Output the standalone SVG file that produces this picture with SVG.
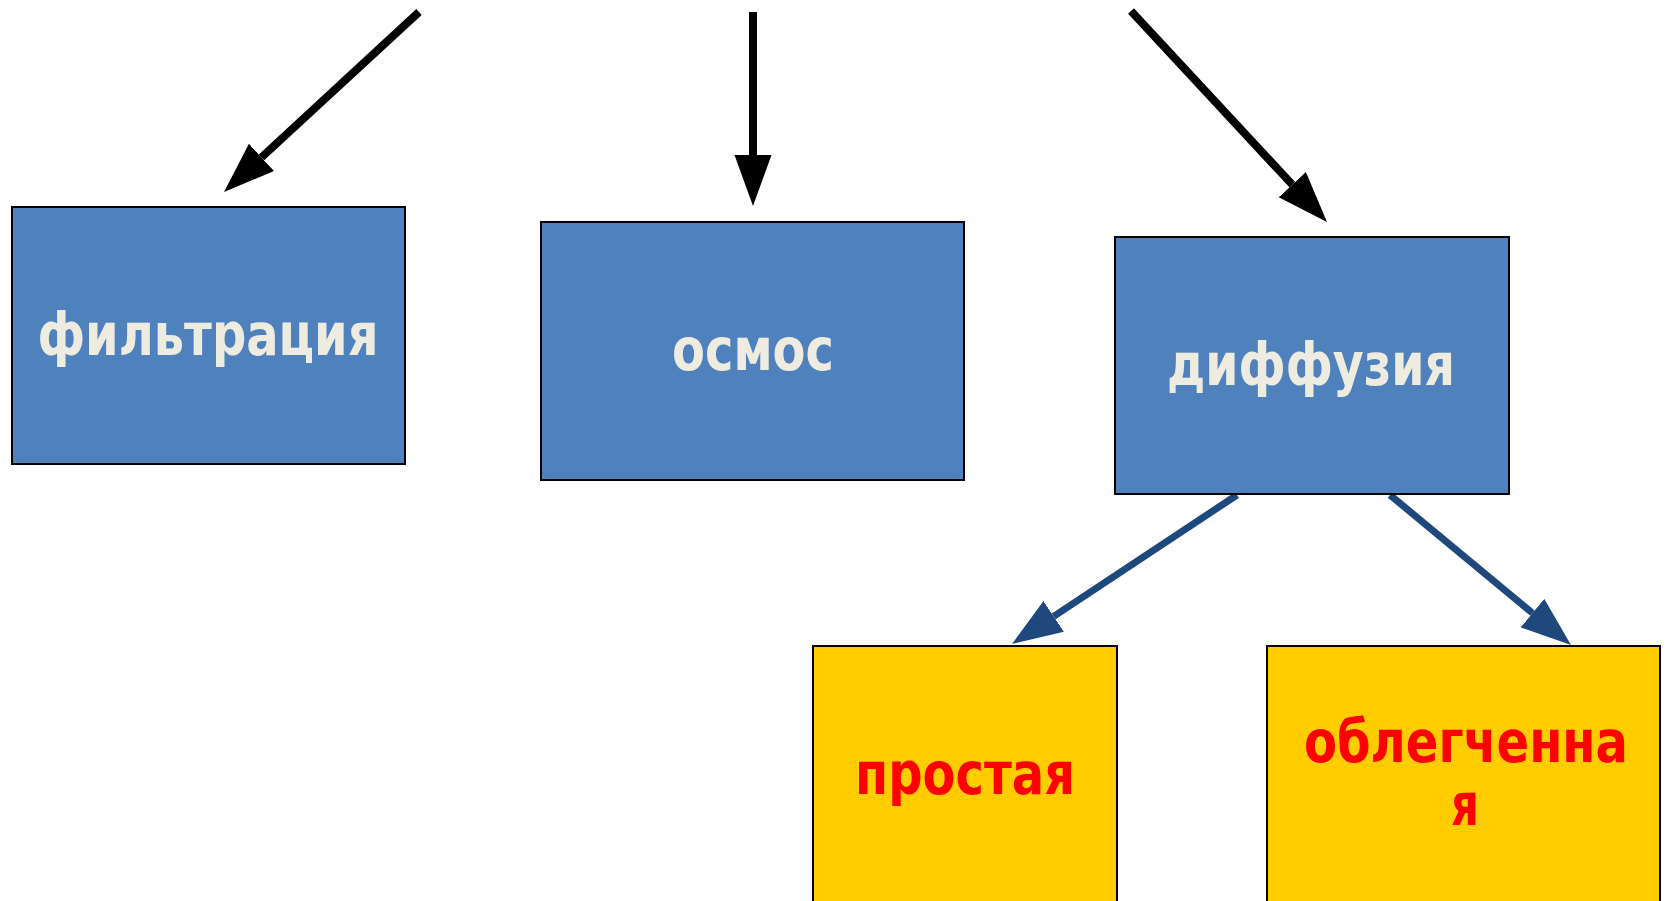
<svg xmlns="http://www.w3.org/2000/svg" width="1666" height="901" viewBox="0 0 1666 901">
<style>
.blue{fill:#4F81BD;stroke:#000;stroke-width:2}
.yel{fill:#FFCC00;stroke:#000;stroke-width:2}
.wt{font-family:"DejaVu Sans",sans-serif;font-weight:bold;font-size:58px;fill:#EEECE1;text-anchor:middle}
.rt{font-family:"DejaVu Sans",sans-serif;font-weight:bold;font-size:58px;fill:#FF0000;text-anchor:middle}
.bk{stroke:#000;stroke-width:8;fill:none}
.bl{stroke:#1F497D;stroke-width:7;fill:none}
</style>
<defs>
<marker id="hb" markerUnits="userSpaceOnUse" markerWidth="52" markerHeight="38" refX="0" refY="18.5" orient="auto"><path d="M0,0 L51,18.5 L0,37 z" fill="#000"/></marker>
<marker id="hl" markerUnits="userSpaceOnUse" markerWidth="52" markerHeight="38" refX="0" refY="18.5" orient="auto"><path d="M0,0 L50,18.5 L0,37 z" fill="#1F497D"/></marker>
</defs>
<rect width="1666" height="901" fill="#fff"/>
<g id="connectors">
<line class="bk" x1="419" y1="12" x2="261.5" y2="157.4" marker-end="url(#hb)"/>
<line class="bk" x1="753" y1="12" x2="753" y2="155" marker-end="url(#hb)"/>
<line class="bk" x1="1131" y1="11" x2="1292.3" y2="184.6" marker-end="url(#hb)"/>
<line class="bl" x1="1237" y1="495" x2="1053.7" y2="616.4" marker-end="url(#hl)"/>
<line class="bl" x1="1390" y1="495" x2="1532.5" y2="613.1" marker-end="url(#hl)"/>
</g>
<g id="filtration"><rect class="blue" x="12" y="207" width="393" height="257"/><text class="wt" x="208" y="355" textLength="341" lengthAdjust="spacingAndGlyphs">фильтрация</text></g>
<g id="osmos"><rect class="blue" x="541" y="222" width="423" height="258"/><text class="wt" x="753" y="370" textLength="162" lengthAdjust="spacingAndGlyphs">осмос</text></g>
<g id="diffusion"><rect class="blue" x="1115" y="237" width="394" height="257"/><text class="wt" x="1311" y="385" textLength="288" lengthAdjust="spacingAndGlyphs">диффузия</text></g>
<g id="simple"><rect class="yel" x="813" y="646" width="304" height="300"/><text class="rt" x="965" y="794" textLength="220" lengthAdjust="spacingAndGlyphs">простая</text></g>
<g id="facilitated"><rect class="yel" x="1267" y="646" width="393" height="300"/><text class="rt" x="1466" y="762" textLength="324" lengthAdjust="spacingAndGlyphs">облегченна</text><text class="rt" x="1465" y="825" textLength="28" lengthAdjust="spacingAndGlyphs">я</text></g>
</svg>
